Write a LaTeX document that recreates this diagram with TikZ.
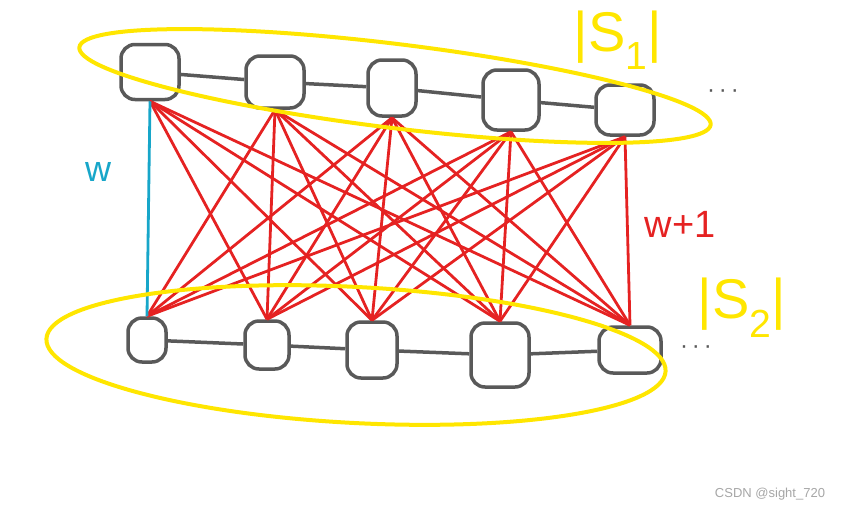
\documentclass[tikz,border=0pt]{standalone}
\usepackage{fontspec}
\setmainfont{Liberation Sans}

\definecolor{penGray}{HTML}{595959}
\definecolor{penRed}{HTML}{E52222}
\definecolor{penBlue}{HTML}{17A6C9}
\definecolor{penYellow}{HTML}{FFE600}

\tikzset{
    vert/.style={draw=penGray, line width=3.5pt, rounded corners=14pt, inner sep=0pt},
    chain/.style={draw=penGray, line width=3.5pt},
    cross/.style={draw=penRed, line width=2.8pt},
    hull/.style={draw=penYellow, line width=4pt},
}

\begin{document}
\begin{tikzpicture}[x=1pt, y=-1pt]

    \useasboundingbox (0,0) rectangle (859,512);

    % Top row
    \node[vert, minimum width=58pt, minimum height=55pt] (t1) at (150,72) {};
    \node[vert, minimum width=58pt, minimum height=52pt] (t2) at (275,82) {};
    \node[vert, minimum width=48pt, minimum height=56pt] (t3) at (392,88) {};
    \node[vert, minimum width=56pt, minimum height=60pt] (t4) at (511,100) {};
    \node[vert, minimum width=58pt, minimum height=50pt] (t5) at (625,110) {};

    % Bottom row
    \node[vert, minimum width=38pt, minimum height=44pt] (b1) at (147,340) {};
    \node[vert, minimum width=44pt, minimum height=48pt] (b2) at (267,345) {};
    \node[vert, minimum width=50pt, minimum height=56pt] (b3) at (372,350) {};
    \node[vert, minimum width=58pt, minimum height=64pt] (b4) at (500,355) {};
    \node[vert, minimum width=62pt, minimum height=46pt] (b5) at (630,350) {};

    % Chains
    \foreach \a/\b in {1/2, 2/3, 3/4, 4/5} {
        \draw[chain] (t\a) -- (t\b);
        \draw[chain] (b\a) -- (b\b);
    }

    % Dots
    \node[text=penGray, font=\fontsize{24}{24}\selectfont] (tdots) at (723,94) {·\,·\,·};
    \node[text=penGray, font=\fontsize{24}{24}\selectfont] (bdots) at (696,350) {·\,·\,·};

    % Cross edges
    \foreach \i in {1,...,5} {
        \foreach \j in {1,...,5} {
            \ifnum\i\j=11 \else
                \draw[cross] (t\i.south) -- (b\j.north);
            \fi
        }
    }
    \draw[draw=penBlue, line width=2.8pt] (t1.south) -- (b1.north);

    % Sets
    \draw[hull, rotate around={-7:(395,86)}] (395,86) ellipse [x radius=318pt, y radius=42pt];
    \draw[hull, rotate around={-3:(356,355)}] (356,355) ellipse [x radius=310pt, y radius=68pt];

    % Labels
    \node[text=penBlue, font=\fontsize{36}{36}\selectfont] (wlab) at (98,172) {w};
    \node[text=penRed, font=\fontsize{38}{38}\selectfont] (wplab) at (680,224) {w+1};
    \node[text=penYellow, font=\fontsize{56}{56}\selectfont] (s1) at (618,40) {|S\textsubscript{1}|};
    \node[text=penYellow, font=\fontsize{56}{56}\selectfont] (s2) at (742,308) {|S\textsubscript{2}|};
    \node[text=gray!70, font=\fontsize{13}{13}\selectfont] (mark) at (770,494) {CSDN @sight\_720};

\end{tikzpicture}
\end{document}
